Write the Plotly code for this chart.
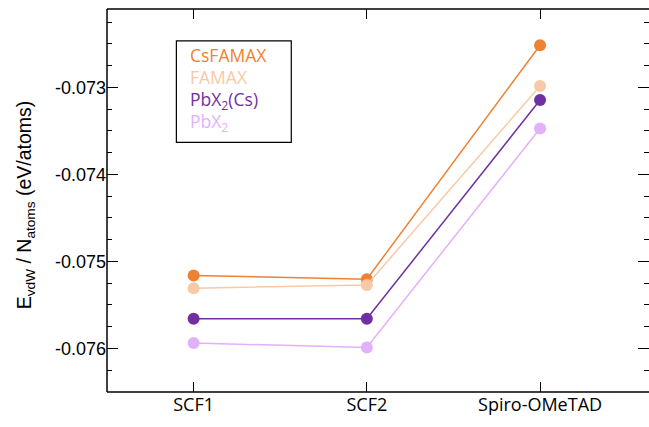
import plotly.graph_objects as go

categories = ["SCF1", "SCF2", "Spiro-OMeTAD"]
series_names = ["CsFAMAX", "FAMAX", "PbX<sub>2</sub>(Cs)", "PbX<sub>2</sub>"]
cs_famax = [-0.075162, -0.075204, -0.072516]
famax = [-0.075308, -0.075270, -0.072985]
pbx2_cs = [-0.075658, -0.075658, -0.073146]
pbx2 = [-0.075938, -0.075988, -0.073472]
colors = ["#EF8133", "#F8C9A6", "#7030A0", "#E2B1FB"]
y_ticks = [-0.076, -0.075, -0.074, -0.073]
y_tick_text = ["-0.076", "-0.075", "-0.074", "-0.073"]
y_title = "E<sub>vdW</sub> / N<sub>atoms</sub> (eV/atoms)"

series = [cs_famax, famax, pbx2_cs, pbx2]
xpos = list(range(len(categories)))
x_range = [-0.5, 2.629]
y_range = [-0.0765, -0.0721]

fig = go.Figure()
for name, vals, col in zip(series_names, series, colors):
    fig.add_trace(go.Scatter(
        x=xpos, y=vals, mode="lines+markers", name=name,
        line=dict(color=col, width=1.5),
        marker=dict(color=col, size=12),
        showlegend=False,
    ))

# invisible trace that anchors the mirrored (top/right) tick axes
fig.add_trace(go.Scatter(x=[], y=[], xaxis="x2", yaxis="y2",
                         showlegend=False, hoverinfo="skip"))

# colored-text legend inside a framed box
for i, (name, col) in enumerate(zip(series_names, colors)):
    fig.add_annotation(
        xref="paper", yref="paper", x=0.150, y=0.881 - i * 0.0593,
        xanchor="left", yanchor="middle", showarrow=False,
        text=name, font=dict(family="Open Sans", size=17.5, color=col),
    )
fig.add_shape(type="rect", xref="paper", yref="paper",
              x0=0.128, x1=0.340, y0=0.652, y1=0.917,
              line=dict(color="black", width=1.2), fillcolor="rgba(0,0,0,0)")

# y-axis title placed as rotated text
fig.add_annotation(
    xref="paper", yref="paper", x=-0.151, y=0.488,
    xanchor="center", yanchor="middle", showarrow=False, textangle=-90,
    text=y_title, font=dict(family="Liberation Sans", size=19.5, color="black"),
)

# frame: left, top and bottom edges
for x0, y0, x1, y1 in [(0, 0, 0, 1), (0, 1, 1, 1), (0, 0, 1, 0)]:
    fig.add_shape(type="line", xref="paper", yref="paper",
                  x0=x0, y0=y0, x1=x1, y1=y1,
                  line=dict(color="black", width=1.5))

tick_common = dict(showgrid=False, zeroline=False, showline=False,
                   ticks="inside", tickwidth=1.2, tickcolor="black")

fig.update_layout(
    width=649, height=427,
    margin=dict(l=107, r=0, t=9, b=35),
    plot_bgcolor="white", paper_bgcolor="white",
    xaxis=dict(
        range=x_range, tickvals=xpos, ticktext=categories, ticklen=10,
        tickfont=dict(family="Open Sans", size=18, color="black"),
        **tick_common,
    ),
    xaxis2=dict(
        range=x_range, tickvals=xpos, ticklen=10, showticklabels=False,
        overlaying="x", side="top", anchor="y", **tick_common,
    ),
    yaxis=dict(
        range=y_range, tickvals=y_ticks, ticktext=y_tick_text, ticklen=11,
        minor=dict(ticks="inside", ticklen=5, dtick=0.00025, tickcolor="black", tickwidth=1),
        tickfont=dict(family="Liberation Sans", size=18, color="black"),
        **tick_common,
    ),
    yaxis2=dict(
        range=y_range, tickvals=y_ticks, ticklen=11, showticklabels=False,
        minor=dict(ticks="inside", ticklen=5, dtick=0.00025, tickcolor="black", tickwidth=1),
        overlaying="y", side="right", anchor="x", **tick_common,
    ),
)

fig.write_html("out.html")
